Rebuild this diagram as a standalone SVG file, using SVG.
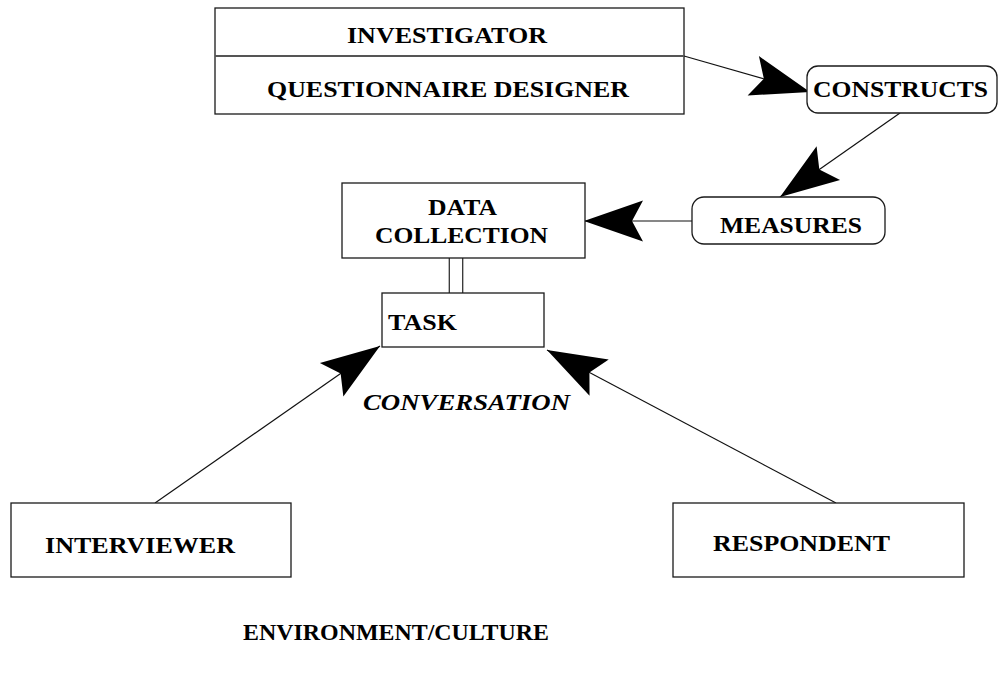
<svg xmlns="http://www.w3.org/2000/svg" width="1003" height="673" viewBox="0 0 1003 673">
<style>
  .box { fill: #fff; stroke: #1a1a1a; stroke-width: 1.3; }
  .rbox { fill: #fff; stroke: #1a1a1a; stroke-width: 1.3; }
  .lbl { font-family: "Liberation Serif", "Times New Roman", serif; font-weight: bold; font-size: 24px; fill: #000; }
  .ital { font-style: italic; }
  .conn { stroke: #111; stroke-width: 1.2; fill: none; }
  .dbl { stroke: #333; stroke-width: 1.3; fill: none; }
</style>
<defs>
  <marker id="bigArrow" markerUnits="userSpaceOnUse" orient="auto" refX="0" refY="0" markerWidth="80" markerHeight="50" overflow="visible">
    <path d="M0,0 L-59,-20.5 L-48,0 L-59,20.5 Z" fill="#000"/>
  </marker>
</defs>
<rect width="1003" height="673" fill="#fff"/>

<g id="connectors">
  <line class="conn" x1="684" y1="56" x2="810" y2="92" marker-end="url(#bigArrow)"/>
  <line class="conn" x1="900" y1="113" x2="780" y2="197" marker-end="url(#bigArrow)"/>
  <line class="conn" x1="692" y1="221" x2="584" y2="221" marker-end="url(#bigArrow)"/>
  <line class="conn" x1="155" y1="503" x2="380" y2="346" marker-end="url(#bigArrow)"/>
  <line class="conn" x1="836" y1="503" x2="547" y2="350" marker-end="url(#bigArrow)"/>
  <line class="dbl" x1="449.3" y1="258" x2="449.3" y2="293"/>
  <line class="dbl" x1="462.7" y1="258" x2="462.7" y2="293"/>
</g>

<g id="investigator">
  <rect class="box" x="215" y="8" width="469" height="106"/>
  <line x1="215" y1="56" x2="684" y2="56" stroke="#555" stroke-width="2"/>
  <text class="lbl" x="347" y="43" textLength="200" lengthAdjust="spacingAndGlyphs">INVESTIGATOR</text>
  <text class="lbl" x="267" y="97" textLength="362" lengthAdjust="spacingAndGlyphs">QUESTIONNAIRE DESIGNER</text>
</g>

<g id="constructs">
  <rect class="rbox" x="807" y="66" width="190" height="47" rx="11" ry="11"/>
  <text class="lbl" x="813" y="97" textLength="175" lengthAdjust="spacingAndGlyphs">CONSTRUCTS</text>
</g>

<g id="measures">
  <rect class="rbox" x="692" y="197" width="193" height="47" rx="12" ry="12"/>
  <text class="lbl" x="720" y="233" textLength="142" lengthAdjust="spacingAndGlyphs">MEASURES</text>
</g>

<g id="data-collection">
  <rect class="box" x="342" y="183" width="243" height="75"/>
  <text class="lbl" x="428" y="215" textLength="69" lengthAdjust="spacingAndGlyphs">DATA</text>
  <text class="lbl" x="375" y="243" textLength="173" lengthAdjust="spacingAndGlyphs">COLLECTION</text>
</g>

<g id="task">
  <rect class="box" x="382" y="293" width="162" height="54"/>
  <text class="lbl" x="388" y="330" textLength="69" lengthAdjust="spacingAndGlyphs">TASK</text>
</g>

<g id="conversation">
  <text class="lbl ital" x="363" y="410" font-size="21" textLength="207" lengthAdjust="spacingAndGlyphs">CONVERSATION</text>
</g>

<g id="interviewer">
  <rect class="box" x="11" y="503" width="280" height="74"/>
  <text class="lbl" x="45" y="553" textLength="190" lengthAdjust="spacingAndGlyphs">INTERVIEWER</text>
</g>

<g id="respondent">
  <rect class="box" x="673" y="503" width="291" height="74"/>
  <text class="lbl" x="713" y="551" textLength="177" lengthAdjust="spacingAndGlyphs">RESPONDENT</text>
</g>

<g id="environment">
  <text class="lbl" x="243" y="640" textLength="306" lengthAdjust="spacingAndGlyphs">ENVIRONMENT/CULTURE</text>
</g>
</svg>
